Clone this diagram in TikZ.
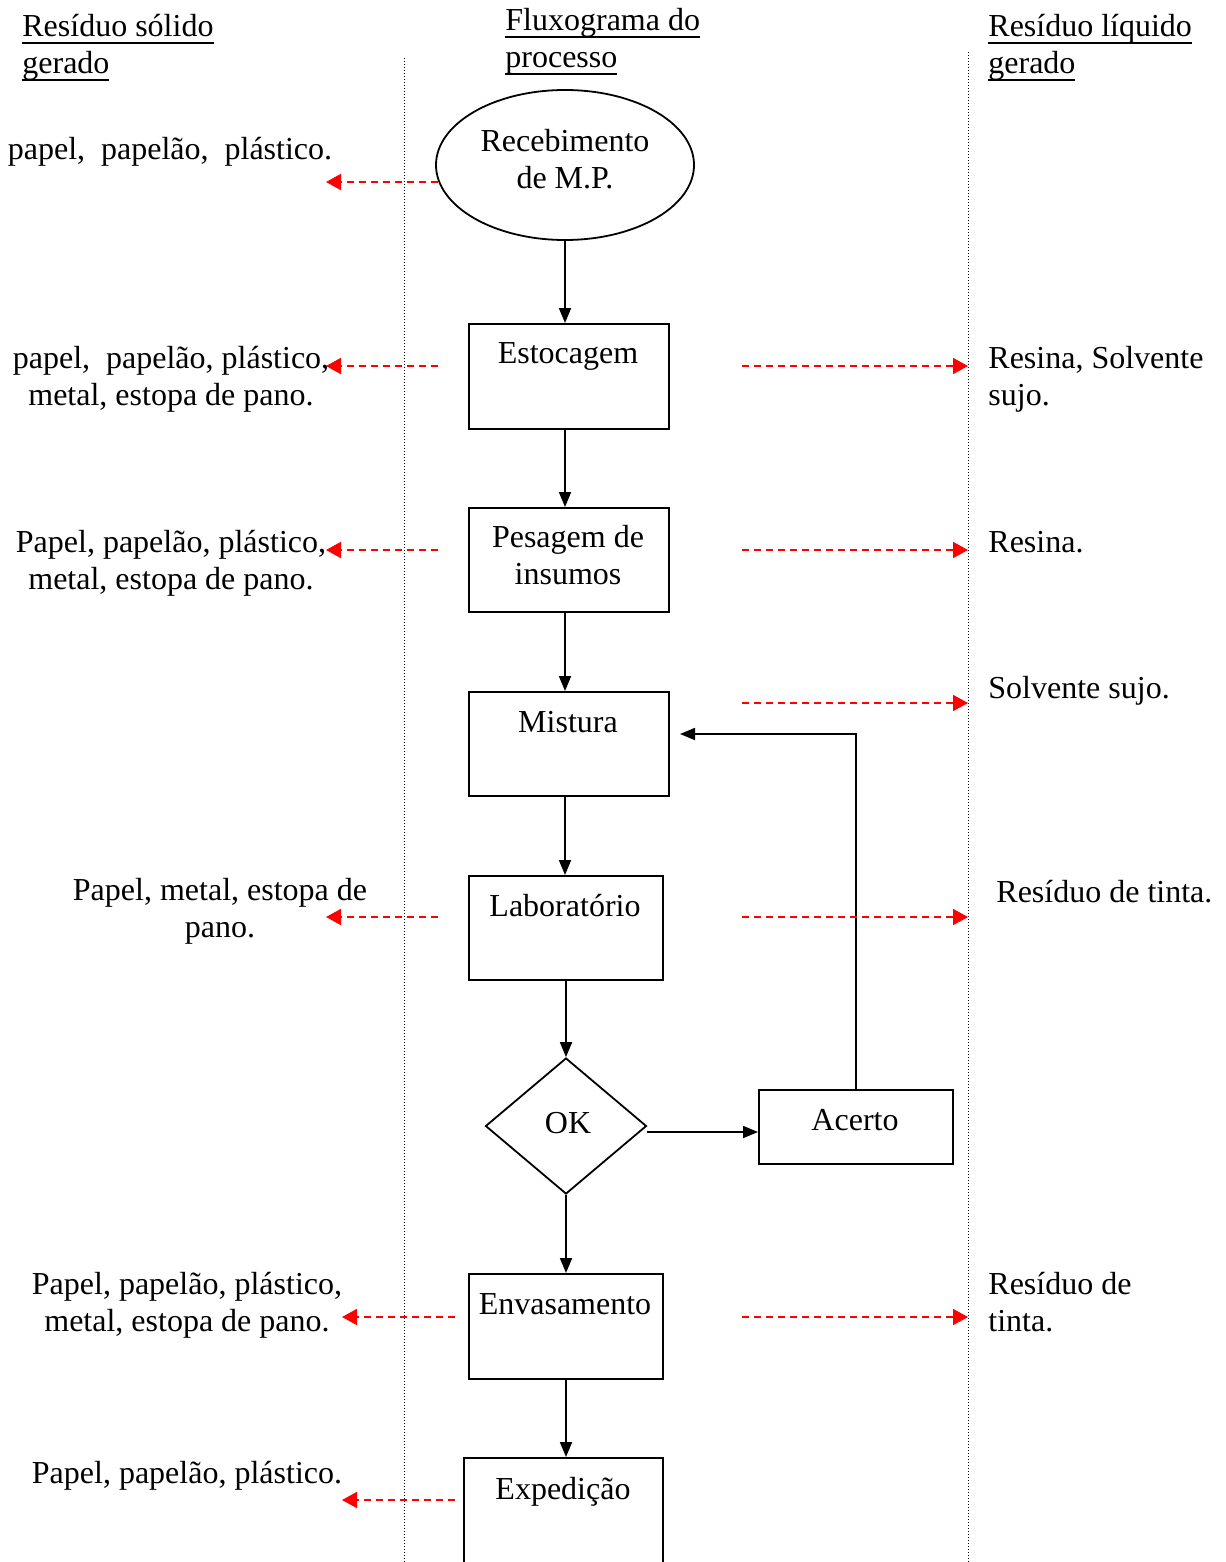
\documentclass[tikz,border=0pt]{standalone}
\usepackage{fontspec}
\setmainfont{Liberation Serif}
\usetikzlibrary{shapes.geometric,arrows.meta,calc}
\newcommand\myul[1]{\leavevmode\setbox0\hbox{#1}\rlap{\rule[-3.4pt]{\wd0}{0.9pt}}\box0}
\begin{document}
\begin{tikzpicture}[x=0.5pt,y=-0.5pt,
  font=\fontsize{16pt}{18.5pt}\selectfont,
  box/.style={draw,line width=0.9pt,inner sep=0,anchor=north west},
  txt/.style={inner sep=0,anchor=base},
  ltxt/.style={inner sep=0,anchor=base west,align=flush left,text width=#1},
  ctxt/.style={inner sep=0,anchor=base,align=flush center,text width=#1},
  arr/.style={-{Triangle[length=7.5pt,width=6pt]},line width=0.9pt},
  rarr/.style={-{Triangle[length=7.5pt,width=8pt]},red,line width=0.9pt,dash pattern=on 3.5pt off 2.5pt},
  sep/.style={line width=0.5pt,dash pattern=on 0.5pt off 1pt}
]
\useasboundingbox (0,0) rectangle (1225,1562);

% separators
\draw[sep] (404,58) -- (404,1562);
\draw[sep] (968,52) -- (968,1562);

% headers
\node[ltxt=130pt] (h1) at (22,37) {\myul{Resíduo sólido}\\\myul{gerado}};
\node[ltxt=130pt] (h2) at (505,31) {\myul{Fluxograma do}\\\myul{processo}};
\node[ltxt=130pt] (h3) at (988,37) {\myul{Resíduo líquido}\\\myul{gerado}};

% process nodes
\node[draw,ellipse,line width=0.9pt,inner sep=0,minimum width=129pt,minimum height=75pt] (rec) at (565,165) {};
\node[ctxt=120pt] (trec) at (565,152) {Recebimento\\de M.P.};

\node[box,minimum width=100pt,minimum height=52.5pt] (est) at (468,323) {};
\node[txt] (test) at (568,363) {Estocagem};

\node[box,minimum width=100pt,minimum height=52pt] (pes) at (468,507) {};
\node[ctxt=100pt] (tpes) at (568,547) {Pesagem de\\insumos};

\node[box,minimum width=100pt,minimum height=52pt] (mis) at (468,691) {};
\node[txt] (tmis) at (568,732) {Mistura};

\node[box,minimum width=97pt,minimum height=52pt] (lab) at (468,875) {};
\node[txt] (tlab) at (565,916) {Laboratório};

\node[draw,diamond,line width=0.9pt,inner sep=0,minimum width=80.5pt,minimum height=68pt] (ok) at (566,1126) {};
\node[txt] (tok) at (568,1133) {OK};

\node[box,minimum width=97pt,minimum height=37pt] (ac) at (758,1089) {};
\node[txt] (tac) at (855,1130) {Acerto};

\node[box,minimum width=97pt,minimum height=52.5pt] (env) at (468,1273) {};
\node[txt] (tenv) at (565,1314) {Envasamento};

\node[box,minimum width=99.5pt,minimum height=54.5pt] (exp) at (463,1457) {};
\node[txt] (texp) at (563,1499) {Expedição};

% black connectors
\draw[arr] (rec.south) -- (rec.south |- est.north);
\draw[arr] (rec.south |- est.south) -- (rec.south |- pes.north);
\draw[arr] (rec.south |- pes.south) -- (rec.south |- mis.north);
\draw[arr] (rec.south |- mis.south) -- (rec.south |- lab.north);
\draw[arr] (ok.north |- lab.south) -- (ok.north);
\coordinate (okr) at ($(ok.east)+(0,6)$);
\draw[arr] (okr) -- (okr -| ac.west);
\coordinate (mixin) at (680,734);
\draw[arr] (ac.north) |- (mixin);
\draw[arr] (ok.south) -- (ok.south |- env.north);
\draw[arr] (ok.south |- env.south) -- (ok.south |- exp.north);

% red dashed connectors: solid waste (left)
\coordinate (ls1) at (438,182);  \coordinate (le1) at (326,182);
\coordinate (ls2) at (438,366);  \coordinate (le2) at (326,366);
\coordinate (ls3) at (438,550);  \coordinate (le3) at (326,550);
\coordinate (ls4) at (438,917);  \coordinate (le4) at (326,917);
\coordinate (ls5) at (455,1317); \coordinate (le5) at (342,1317);
\coordinate (ls6) at (455,1500); \coordinate (le6) at (342,1500);
\foreach \i in {1,...,6} {\draw[rarr] (ls\i) -- (le\i);}

% red dashed connectors: liquid waste (right)
\coordinate (rs1) at (742,366);  \coordinate (re1) at (968,366);
\coordinate (rs2) at (742,550);  \coordinate (re2) at (968,550);
\coordinate (rs3) at (742,703);  \coordinate (re3) at (968,703);
\coordinate (rs4) at (742,917);  \coordinate (re4) at (968,917);
\coordinate (rs5) at (742,1317); \coordinate (re5) at (968,1317);
\foreach \i in {1,...,5} {\draw[rarr] (rs\i) -- (re\i);}

% left texts
\node[ctxt=180pt] (s1) at (170,160) {papel,\ \ papelão,\ \ plástico.};
\node[ctxt=180pt] (s2) at (171,368) {papel,\ \ papelão, plástico,\\metal, estopa de pano.};
\node[ctxt=180pt] (s3) at (171,552) {Papel, papelão, plástico,\\metal, estopa de pano.};
\node[ctxt=180pt] (s4) at (220,900) {Papel, metal, estopa de\\pano.};
\node[ctxt=180pt] (s5) at (187,1294) {Papel, papelão, plástico,\\metal, estopa de pano.};
\node[ctxt=180pt] (s6) at (187,1483) {Papel, papelão, plástico.};

% right texts
\node[ltxt=120pt] (l1) at (988,368) {Resina, Solvente\\sujo.};
\node[ltxt=120pt] (l2) at (988,552) {Resina.};
\node[ltxt=120pt] (l3) at (988,698) {Solvente sujo.};
\node[ltxt=120pt] (l4) at (996,902) {Resíduo de tinta.};
\node[ltxt=120pt] (l5) at (988,1294) {Resíduo de\\tinta.};
\end{tikzpicture}
\end{document}
